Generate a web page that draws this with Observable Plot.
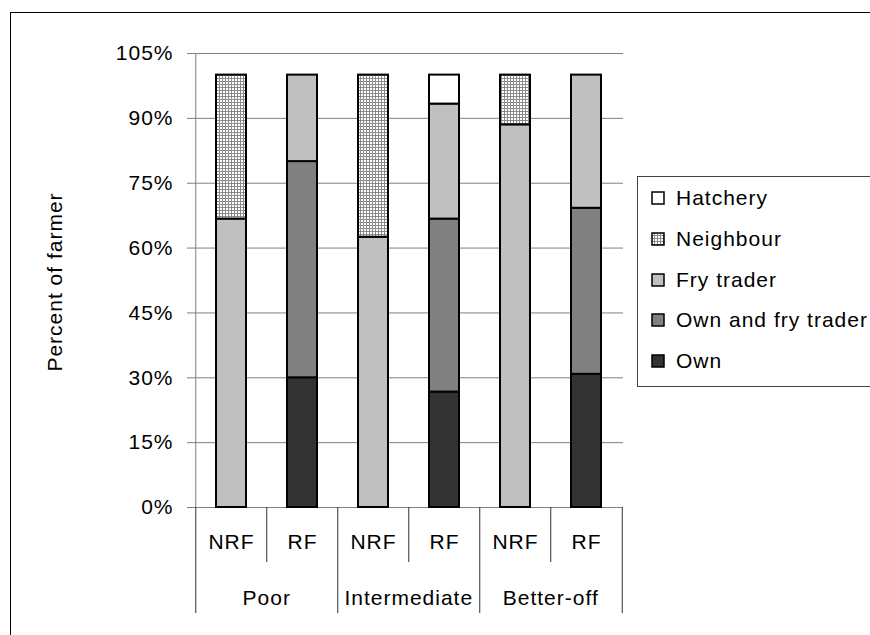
<!DOCTYPE html>
<html>
<head>
<meta charset="utf-8">
<script src="https://cdn.jsdelivr.net/npm/d3@7"></script>
<script src="https://cdn.jsdelivr.net/npm/@observablehq/plot@0.6"></script>
<style>
  html, body { margin: 0; padding: 0; width: 870px; height: 635px; overflow: hidden; background: #fff; }
  body { position: relative; font-family: "Liberation Sans", Arial, sans-serif; color: #000; }
  #border { position: absolute; left: 10px; top: 12px; width: 900px; height: 700px; border: 1.5px solid #000; }
  #chart { position: absolute; left: 0; top: 0; }
  #ylabel { position: absolute; left: 55px; top: 282px; transform: translate(-50%, -50%) rotate(-90deg);
            white-space: nowrap; font-size: 21px; letter-spacing: 1px; }
  #legend { position: absolute; left: 637px; top: 176px; width: 260px; height: 209px; border: 1px solid #444; background: #fff; }
  .item { position: absolute; left: 13px; height: 26px; display: flex; align-items: center;
          font-size: 21px; letter-spacing: 1px; white-space: nowrap; }
  .item svg { margin-right: 11px; }
</style>
</head>
<body>
<div id="border"></div>
<div id="chart"></div>
<div id="ylabel">Percent of farmer</div>
<div id="legend"></div>
<script>
// Wealth groups and the two farmer types within each
const groups = ["Poor", "Intermediate", "Better-off"];
const types = ["NRF", "RF"];

// Fry sources, stacked bottom to top
const sources = ["Own", "Own and fry trader", "Fry trader", "Neighbour", "Hatchery"];
const sourceFills = ["#333333", "#808080", "#c0c0c0", "url(#neighbourGrid)", "#ffffff"];
// Legend lists the sources top to bottom
const legendOrder = ["Hatchery", "Neighbour", "Fry trader", "Own and fry trader", "Own"];

// Percent of farmers per bar: Poor NRF, Poor RF, Intermediate NRF, Intermediate RF, Better-off NRF, Better-off RF
const own             = [0,    30, 0,    26.7, 0,    30.8];
const ownAndFryTrader = [0,    50, 0,    40,   0,    38.4];
const fryTrader       = [66.7, 20, 62.5, 26.6, 88.5, 30.8];
const neighbour       = [33.3, 0,  37.5, 0,    11.5, 0];
const hatchery        = [0,    0,  0,    6.7,  0,    0];

// Y axis ticks
const yTicks = [0, 15, 30, 45, 60, 75, 90, 105];

const series = [own, ownAndFryTrader, fryTrader, neighbour, hatchery];
const bars = groups.flatMap(g => types.map(t => ({group: g, type: t, key: g + " " + t})));
const keys = bars.map(b => b.key);

const rows = [];
bars.forEach((b, i) => {
  sources.forEach((s, j) => {
    if (series[j][i] > 0) rows.push({key: b.key, source: s, value: series[j][i]});
  });
});

// Layout
const W = 870, H = 635, mL = 194, mR = 247, mT = 53, mB = 128;
const step = (W - mL - mR) / keys.length;

// Separators under the axis: between NRF and RF (short) and between groups (long)
const shortSeps = bars.filter(b => b.type === "RF");
const longSeps = bars.filter(b => b.type === "NRF");
const lastBar = bars.slice(-1);
const groupLabels = bars.filter(b => b.type === "RF");

const sepStyle = {x: "key", y1: () => 0, y2: () => 0, stroke: "#333"};

const chart = Plot.plot({
  width: W, height: H,
  marginLeft: mL, marginRight: mR, marginTop: mT, marginBottom: mB,
  style: {fontFamily: "'Liberation Sans', Arial, sans-serif", fontSize: "21px", letterSpacing: "1px", color: "#000", background: "transparent"},
  x: {domain: keys, paddingInner: 0.58, paddingOuter: 0.29, axis: null},
  y: {domain: [0, 105]},
  color: {domain: sources, range: sourceFills},
  marks: [
    Plot.gridY(yTicks, {stroke: "#808080", strokeOpacity: 1}),
    Plot.ruleY([0], {stroke: "#808080", insetLeft: -7}),
    Plot.ruleX([keys[0]], {dx: -step / 2, stroke: "#808080"}),
    Plot.axisY({ticks: yTicks, tickFormat: d => d + "%", tickSize: 7, tickPadding: 14, stroke: "#808080", label: null, fontSize: 21}),
    Plot.barY(rows, Plot.stackY({x: "key", y: "value", fill: "source", stroke: "#000", strokeWidth: 2, order: null})),
    Plot.ruleX(shortSeps, {...sepStyle, dx: -step / 2, insetBottom: -55}),
    Plot.ruleX(longSeps, {...sepStyle, dx: -step / 2, insetBottom: -106}),
    Plot.ruleX(lastBar, {...sepStyle, dx: step / 2, insetBottom: -106}),
    Plot.text(bars, {x: "key", y: () => 0, dy: 35, text: "type", fontSize: 21, fill: "#000"}),
    Plot.text(groupLabels, {x: "key", y: () => 0, dx: -step / 2, dy: 91, text: "group", fontSize: 21, fill: "#000"})
  ]
});

document.getElementById("chart").appendChild(chart);

// Fine grid fill used for the Neighbour segments
const svg = d3.select(chart);
const defs = svg.insert("defs", ":first-child");
const pat = defs.append("pattern").attr("id", "neighbourGrid").attr("patternUnits", "userSpaceOnUse")
  .attr("width", 3).attr("height", 3);
pat.append("rect").attr("width", 3).attr("height", 3).attr("fill", "#ffffff");
pat.append("rect").attr("width", 3).attr("height", 1).attr("fill", "#8a8a8a");
pat.append("rect").attr("width", 1).attr("height", 3).attr("fill", "#8a8a8a");

// Legend box with one swatch per source
const legend = d3.select("#legend");
legendOrder.forEach((s, i) => {
  const item = legend.append("div").attr("class", "item").style("top", (8 + i * 40.8) + "px");
  const sw = item.append("svg").attr("width", 14).attr("height", 14);
  sw.append("rect").attr("x", 1).attr("y", 1).attr("width", 12).attr("height", 12)
    .attr("fill", sourceFills[sources.indexOf(s)]).attr("stroke", "#000").attr("stroke-width", 1.5);
  item.append("span").text(s);
});
</script>
</body>
</html>
